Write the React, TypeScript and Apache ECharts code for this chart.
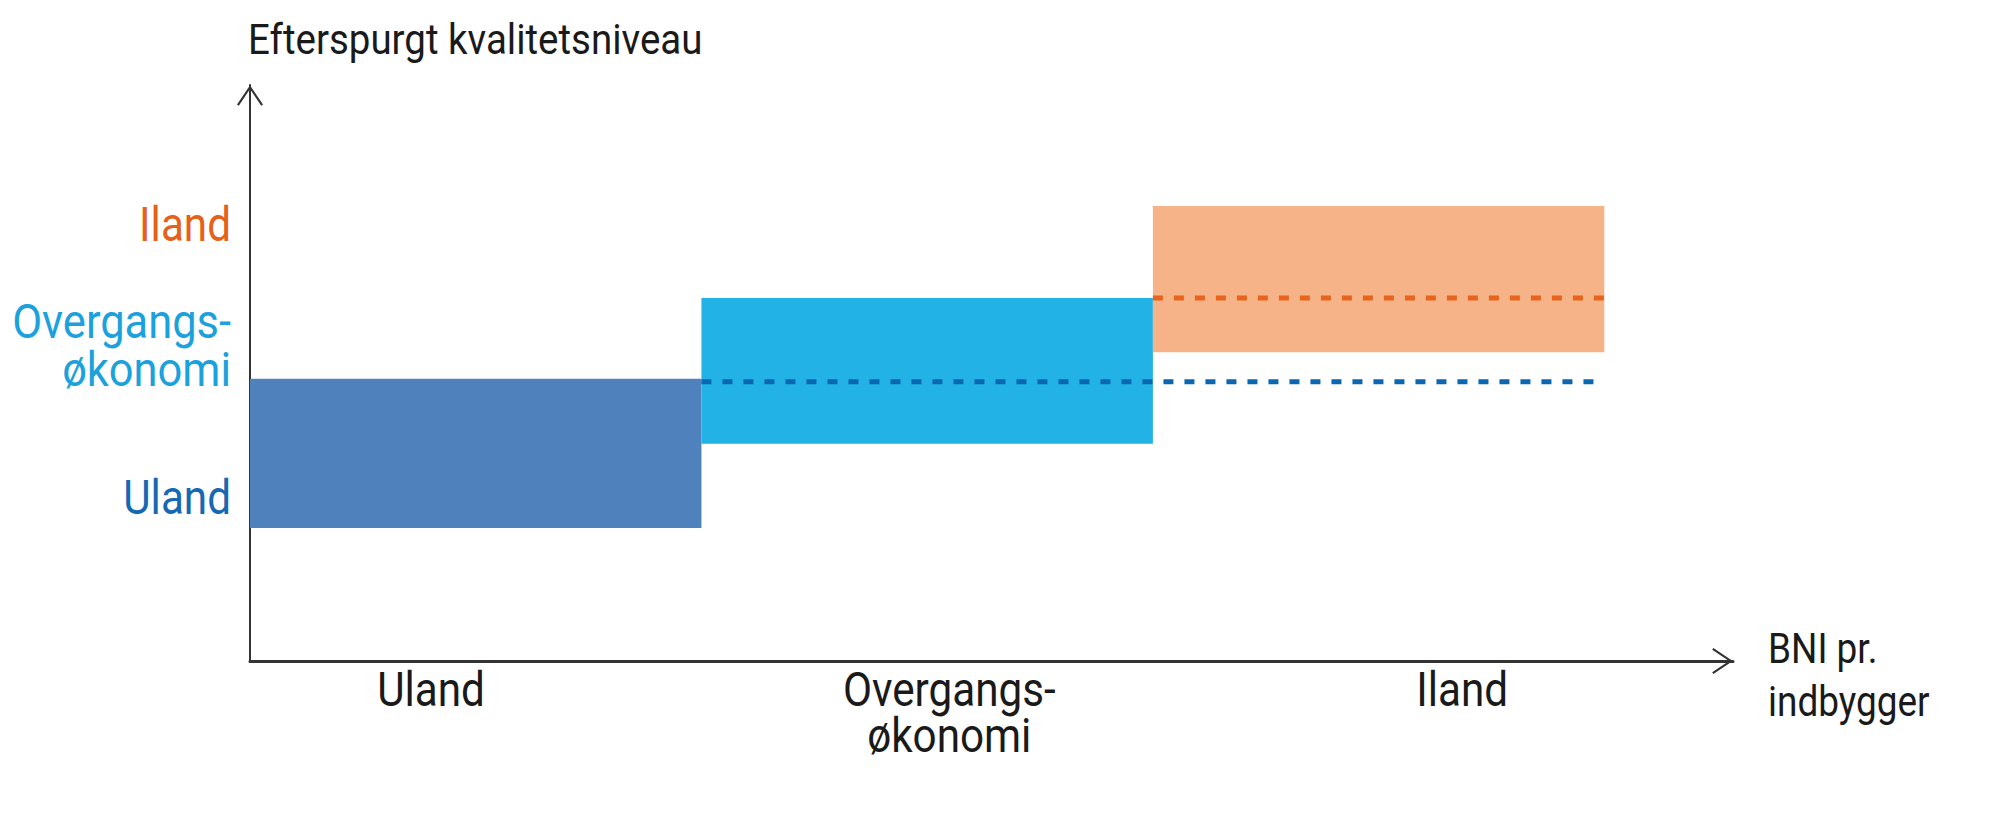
import React, { useEffect, useRef } from "react";
import * as echarts from "echarts";

// ---- data ----
const incomeGroups = ["Uland", "Overgangs-\nøkonomi", "Iland"];
const groupStart = [0, 1, 2];
const groupEnd = [1, 2, 3];
const demandLow = [23.1, 37.7, 53.6];
const demandHigh = [49.0, 63.0, 79.0];
const bandColors = ["#4f81bd", "#22b2e6", "#f6b387"];

// dashed reference levels (previous group's upper level carried forward)
const refFrom = [1, 2];
const refTo = [2.986, 3];
const refLevel = [48.5, 63.0];
const refColors = ["#0b67b1", "#e8641c"];

// tick label positions
const xLabelAt = [0.401, 1.549, 2.685];
const yLabels = ["Uland", "Overgangs-\nøkonomi", "Iland"];
const yLabelAt = [28.4, 54.7, 75.8];
const yLabelColors = ["#1768b2", "#1ba1dc", "#e5611a"];

const yTitle = "Efterspurgt kvalitetsniveau";
const xTitle = "BNI pr.\nindbygger";

const X_MAX = 3.285;
const Y_MAX = 100;

const chevron = "path://M13,0 L26,19.4 L24.2,20.6 L13,3.8 L1.8,20.6 L0,19.4 Z";
const FONT = "Roboto";
const SQUEEZE = 0.88;

export default function App() {
  const ref = useRef<HTMLDivElement>(null);

  useEffect(() => {
    const chart = echarts.init(ref.current!, null, { renderer: "svg" });

    const bandData = groupStart.map((s, i) => [s, groupEnd[i], demandLow[i], demandHigh[i]]);

    const refSeries = refFrom.map((f, i) => ({
      type: "line",
      data: [
        [f, refLevel[i]],
        [refTo[i], refLevel[i]],
      ],
      symbol: "none",
      silent: true,
      z: 5,
      lineStyle: { color: refColors[i], width: 5, type: [10, 11], cap: "butt" },
    }));

    chart.setOption({
      animation: false,
      grid: { left: 250, right: 267, top: 85, bottom: 156, outerBoundsMode: "none" },
      xAxis: {
        type: "value",
        min: 0,
        max: X_MAX,
        splitLine: { show: false },
        axisTick: { show: false },
        axisLabel: { show: false },
        axisLine: {
          show: true,
          onZero: false,
          lineStyle: { color: "#333333", width: 3 },
          symbol: ["none", chevron],
          symbolSize: [26, 21],
          symbolOffset: [0, -10.5],
        },
      },
      yAxis: {
        type: "value",
        min: 0,
        max: Y_MAX,
        splitLine: { show: false },
        axisTick: { show: false },
        axisLabel: { show: false },
        axisLine: {
          show: true,
          onZero: false,
          lineStyle: { color: "#333333", width: 2 },
          symbol: ["none", chevron],
          symbolSize: [26, 21],
          symbolOffset: [0, -10.5],
        },
      },
      series: [
        {
          type: "custom",
          silent: true,
          z: 2,
          encode: { x: [0, 1], y: [2, 3] },
          data: bandData,
          renderItem: (params: any, api: any) => {
            const p0 = api.coord([api.value(0), api.value(3)]);
            const p1 = api.coord([api.value(1), api.value(2)]);
            return {
              type: "rect",
              shape: { x: p0[0], y: p0[1], width: p1[0] - p0[0], height: p1[1] - p0[1] },
              style: { fill: bandColors[params.dataIndex] },
            };
          },
        },
        ...refSeries,
      ],
    });

    const px = (x: number, y: number) =>
      chart.convertToPixel({ gridIndex: 0 } as any, [x, y]) as number[];

    const origin = px(0, 0);
    const topEnd = px(0, Y_MAX);
    const rightEnd = px(X_MAX, 0);

    const elements: any[] = [];

    elements.push({
      type: "text",
      x: origin[0] - 2,
      y: topEnd[1] - 46,
      scaleX: 0.895,
      style: {
        text: yTitle,
        fontFamily: FONT,
        fontSize: 43,
        fill: "#1a1a1a",
        align: "left",
        verticalAlign: "middle",
      },
    });

    elements.push({
      type: "text",
      x: rightEnd[0] + 35,
      y: origin[1] + 14,
      scaleX: SQUEEZE,
      style: {
        text: xTitle,
        fontFamily: FONT,
        fontSize: 42,
        lineHeight: 53,
        fill: "#1a1a1a",
        align: "left",
        verticalAlign: "middle",
      },
    });

    incomeGroups.forEach((g, i) => {
      const p = px(xLabelAt[i], 0);
      elements.push({
        type: "text",
        x: p[0],
        y: p[1] + 6,
        scaleX: SQUEEZE,
        style: {
          text: g,
          fontFamily: FONT,
          fontSize: 48,
          lineHeight: 46,
          fill: "#1a1a1a",
          align: "center",
          verticalAlign: "top",
        },
      });
    });

    yLabels.forEach((g, i) => {
      const p = px(0, yLabelAt[i]);
      elements.push({
        type: "text",
        x: p[0] - 19,
        y: p[1],
        scaleX: i === 1 ? 0.905 : SQUEEZE,
        style: {
          text: g,
          fontFamily: FONT,
          fontSize: 48,
          lineHeight: 48,
          fill: yLabelColors[i],
          align: "right",
          verticalAlign: "middle",
        },
      });
    });

    chart.setOption({ graphic: { elements } });

    return () => chart.dispose();
  }, []);

  return (
    <div
      ref={ref}
      style={{ position: "fixed", left: 0, top: 0, width: 2000, height: 817, background: "#ffffff" }}
    />
  );
}
